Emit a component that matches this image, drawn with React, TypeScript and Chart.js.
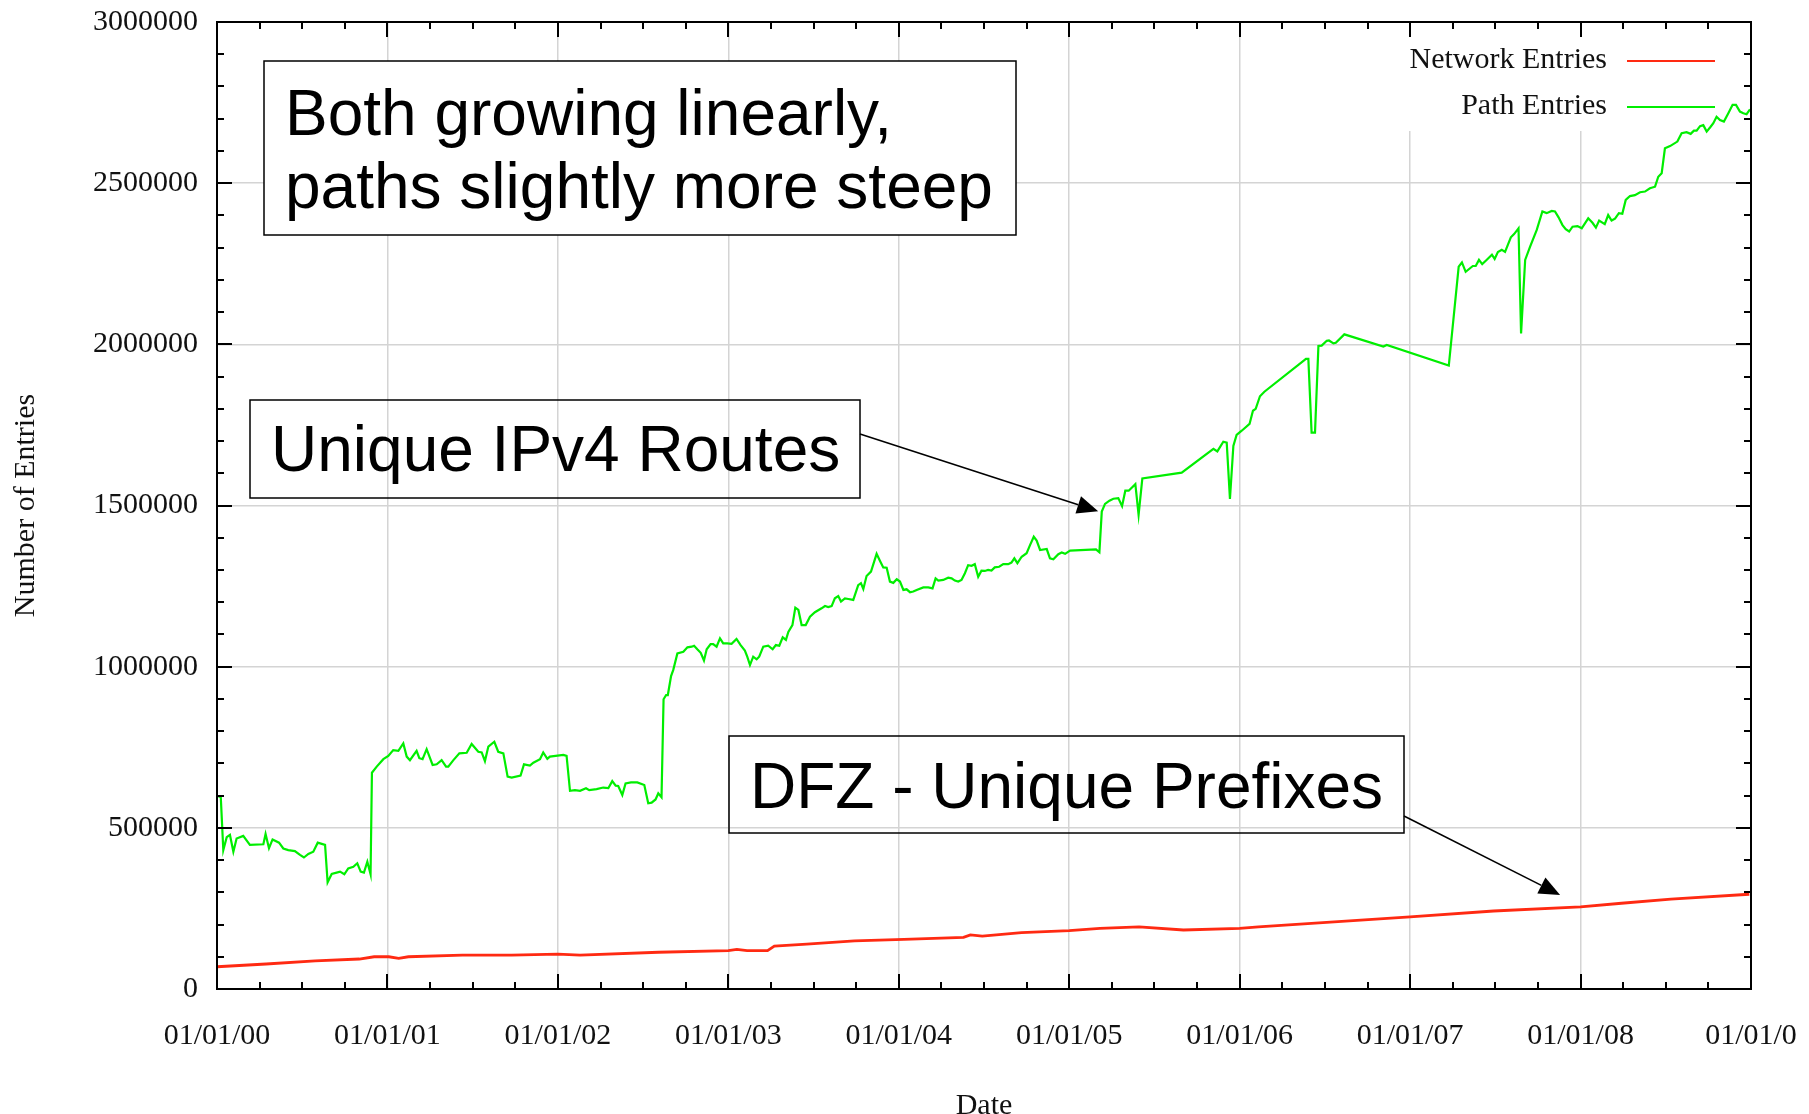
import React, { useEffect, useRef } from 'react';
import { Chart, registerables } from 'chart.js';

Chart.register(...registerables);

// ---------- data ----------
const SERIES_LABELS = ['Network Entries', 'Path Entries'];
const SERIES_COLORS = ['#ff2a12', '#00ee00'];

const X_TICK_LABELS = ['01/01/00', '01/01/01', '01/01/02', '01/01/03', '01/01/04', '01/01/05', '01/01/06', '01/01/07', '01/01/08', '01/01/0'];

const PATH_YEARS = [
  2000.008, 2000.022, 2000.037, 2000.057, 2000.076, 2000.096, 2000.115, 2000.154, 2000.193, 2000.272,
  2000.285, 2000.305, 2000.326, 2000.364, 2000.389, 2000.418, 2000.457, 2000.487, 2000.510, 2000.536,
  2000.565, 2000.591, 2000.634, 2000.649, 2000.673, 2000.702, 2000.722, 2000.747, 2000.770, 2000.800,
  2000.823, 2000.843, 2000.862, 2000.882, 2000.901, 2000.909, 2000.937, 2000.976, 2001.005, 2001.034,
  2001.064, 2001.093, 2001.113, 2001.132, 2001.171, 2001.187, 2001.206, 2001.230, 2001.265, 2001.289,
  2001.318, 2001.344, 2001.357, 2001.387, 2001.422, 2001.465, 2001.494, 2001.533, 2001.553, 2001.572,
  2001.592, 2001.627, 2001.650, 2001.680, 2001.705, 2001.729, 2001.781, 2001.801, 2001.836, 2001.856,
  2001.895, 2001.914, 2001.938, 2001.953, 2002.032, 2002.051, 2002.071, 2002.100, 2002.130, 2002.165,
  2002.184, 2002.227, 2002.266, 2002.296, 2002.319, 2002.339, 2002.354, 2002.378, 2002.397, 2002.429,
  2002.466, 2002.507, 2002.530, 2002.550, 2002.573, 2002.589, 2002.608, 2002.620, 2002.635, 2002.645,
  2002.664, 2002.677, 2002.701, 2002.736, 2002.760, 2002.785, 2002.799, 2002.818, 2002.838, 2002.857,
  2002.873, 2002.896, 2002.911, 2002.931, 2002.951, 2002.970, 2002.994, 2003.019, 2003.048, 2003.072,
  2003.097, 2003.111, 2003.127, 2003.146, 2003.166, 2003.181, 2003.205, 2003.234, 2003.260, 2003.279,
  2003.299, 2003.319, 2003.338, 2003.352, 2003.376, 2003.393, 2003.411, 2003.430, 2003.454, 2003.479,
  2003.508, 2003.547, 2003.567, 2003.586, 2003.606, 2003.625, 2003.645, 2003.661, 2003.684, 2003.704,
  2003.733, 2003.762, 2003.778, 2003.792, 2003.811, 2003.837, 2003.870, 2003.890, 2003.909, 2003.929,
  2003.948, 2003.968, 2003.988, 2004.007, 2004.027, 2004.046, 2004.066, 2004.085, 2004.105, 2004.144,
  2004.173, 2004.198, 2004.216, 2004.232, 2004.261, 2004.290, 2004.310, 2004.329, 2004.349, 2004.368,
  2004.388, 2004.407, 2004.427, 2004.446, 2004.466, 2004.485, 2004.505, 2004.524, 2004.544, 2004.563,
  2004.589, 2004.613, 2004.642, 2004.661, 2004.678, 2004.696, 2004.721, 2004.750, 2004.770, 2004.792,
  2004.809, 2004.829, 2004.868, 2004.887, 2004.907, 2004.936, 2004.956, 2004.976, 2005.005, 2005.157,
  2005.177, 2005.191, 2005.210, 2005.236, 2005.259, 2005.288, 2005.310, 2005.329, 2005.349, 2005.388,
  2005.407, 2005.429, 2005.660, 2005.846, 2005.869, 2005.904, 2005.924, 2005.943, 2005.963, 2005.982,
  2006.012, 2006.058, 2006.078, 2006.094, 2006.119, 2006.145, 2006.389, 2006.403, 2006.422, 2006.442,
  2006.462, 2006.481, 2006.511, 2006.524, 2006.550, 2006.564, 2006.614, 2006.843, 2006.863, 2007.227,
  2007.285, 2007.304, 2007.326, 2007.368, 2007.385, 2007.404, 2007.423, 2007.447, 2007.480, 2007.496,
  2007.515, 2007.538, 2007.557, 2007.591, 2007.610, 2007.636, 2007.651, 2007.675, 2007.704, 2007.743,
  2007.776, 2007.801, 2007.831, 2007.850, 2007.871, 2007.894, 2007.913, 2007.933, 2007.953, 2007.982,
  2008.007, 2008.045, 2008.070, 2008.090, 2008.109, 2008.142, 2008.162, 2008.182, 2008.202, 2008.225,
  2008.245, 2008.265, 2008.290, 2008.319, 2008.349, 2008.378, 2008.407, 2008.437, 2008.456, 2008.476,
  2008.495, 2008.525, 2008.568, 2008.593, 2008.622, 2008.646, 2008.665, 2008.681, 2008.701, 2008.720,
  2008.740, 2008.763, 2008.779, 2008.798, 2008.818, 2008.841, 2008.867, 2008.892, 2008.912, 2008.935,
  2008.955, 2008.974, 2008.994,
];

const PATH_ENTRIES = [
  597000, 597000, 431000, 471000, 478000, 426000, 467000, 475000, 447000, 449000,
  481000, 437000, 464000, 454000, 436000, 431000, 428000, 416000, 408000, 419000,
  426000, 454000, 447000, 331000, 357000, 361000, 364000, 356000, 374000, 379000,
  390000, 364000, 361000, 395000, 356000, 671000, 690000, 713000, 723000, 741000,
  739000, 762000, 721000, 710000, 739000, 716000, 713000, 744000, 695000, 697000,
  710000, 690000, 690000, 710000, 731000, 733000, 760000, 736000, 734000, 707000,
  752000, 767000, 736000, 731000, 659000, 656000, 662000, 697000, 693000, 702000,
  713000, 734000, 714000, 721000, 726000, 723000, 615000, 617000, 615000, 623000,
  617000, 620000, 625000, 623000, 645000, 631000, 630000, 602000, 638000, 641000,
  641000, 633000, 576000, 578000, 588000, 607000, 595000, 899000, 912000, 912000,
  971000, 990000, 1041000, 1046000, 1060000, 1062000, 1065000, 1054000, 1043000, 1019000,
  1054000, 1070000, 1070000, 1062000, 1088000, 1072000, 1072000, 1071000, 1086000, 1067000,
  1050000, 1031000, 1005000, 1031000, 1023000, 1031000, 1062000, 1065000, 1054000, 1067000,
  1065000, 1091000, 1083000, 1108000, 1129000, 1183000, 1176000, 1129000, 1129000, 1155000,
  1169000, 1181000, 1188000, 1185000, 1188000, 1212000, 1219000, 1202000, 1212000, 1210000,
  1207000, 1253000, 1259000, 1241000, 1281000, 1295000, 1350000, 1328000, 1308000, 1307000,
  1264000, 1260000, 1271000, 1264000, 1238000, 1240000, 1231000, 1233000, 1238000, 1246000,
  1246000, 1243000, 1274000, 1267000, 1269000, 1276000, 1274000, 1267000, 1264000, 1269000,
  1290000, 1315000, 1313000, 1318000, 1279000, 1298000, 1297000, 1300000, 1298000, 1308000,
  1310000, 1318000, 1318000, 1323000, 1336000, 1321000, 1341000, 1352000, 1377000, 1403000,
  1391000, 1362000, 1365000, 1336000, 1333000, 1349000, 1354000, 1350000, 1360000, 1364000,
  1355000, 1481000, 1505000, 1515000, 1521000, 1523000, 1498000, 1546000, 1546000, 1566000,
  1471000, 1584000, 1602000, 1676000, 1668000, 1698000, 1695000, 1520000, 1685000, 1719000,
  1732000, 1753000, 1794000, 1800000, 1839000, 1853000, 1955000, 1955000, 1726000, 1726000,
  1995000, 1996000, 2011000, 2012000, 2003000, 2005000, 2031000, 1993000, 1998000, 1934000,
  2241000, 2254000, 2225000, 2243000, 2243000, 2262000, 2249000, 2261000, 2278000, 2265000,
  2286000, 2293000, 2287000, 2332000, 2342000, 2360000, 2034000, 2262000, 2303000, 2355000,
  2412000, 2407000, 2414000, 2412000, 2394000, 2370000, 2357000, 2350000, 2365000, 2367000,
  2360000, 2391000, 2377000, 2362000, 2384000, 2373000, 2401000, 2384000, 2390000, 2407000,
  2405000, 2448000, 2460000, 2463000, 2472000, 2474000, 2484000, 2489000, 2520000, 2531000,
  2608000, 2615000, 2629000, 2655000, 2658000, 2653000, 2663000, 2663000, 2677000, 2680000,
  2660000, 2675000, 2686000, 2706000, 2696000, 2691000, 2717000, 2743000, 2743000, 2722000,
  2717000, 2714000, 2729000,
];

const NET_YEARS = [
  2000.0, 2000.288, 2000.576, 2000.835, 2000.922, 2001.008, 2001.066, 2001.123, 2001.44, 2001.728,
  2002.0, 2002.13, 2002.59, 2003.0, 2003.05, 2003.11, 2003.23, 2003.27, 2003.46, 2003.74,
  2004.03, 2004.38, 2004.42, 2004.49, 2004.72, 2005.0, 2005.18, 2005.41, 2005.67, 2006.0,
  2006.11, 2006.51, 2007.0, 2007.49, 2008.0, 2008.24, 2008.53, 2008.99,
];

const NET_ENTRIES = [
  69000, 77600, 87000, 93000, 100000, 100000, 95000, 100000, 105000, 105000,
  108000, 105000, 114000, 119000, 123000, 119000, 119000, 133000, 139000, 149000,
  154000, 160000, 168000, 164000, 175000, 181000, 188000, 193000, 183000, 188000,
  193000, 207000, 224000, 242000, 255000, 266000, 279000, 294000,
];

const NOTE_BOTH = ['Both growing linearly,', 'paths slightly more steep'];
const NOTE_ROUTES = 'Unique IPv4 Routes';
const NOTE_DFZ = 'DFZ - Unique Prefixes';
// arrow tip targets in data coordinates
const ROUTES_TIP = { x: 2005.17, y: 1482000 };
const DFZ_TIP = { x: 2007.88, y: 292000 };

const SERIF = '"Liberation Serif", "Times New Roman", serif';
const SANS = '"Liberation Sans", Arial, sans-serif';

function drawArrow(ctx: CanvasRenderingContext2D, x0: number, y0: number, x1: number, y1: number) {
  const len = 21;
  const half = 9;
  const ang = Math.atan2(y1 - y0, x1 - x0);
  const bx = x1 - len * Math.cos(ang);
  const by = y1 - len * Math.sin(ang);
  ctx.beginPath();
  ctx.moveTo(x0, y0);
  ctx.lineTo(bx, by);
  ctx.stroke();
  ctx.beginPath();
  ctx.moveTo(x1, y1);
  ctx.lineTo(bx + half * Math.sin(ang), by - half * Math.cos(ang));
  ctx.lineTo(bx - half * Math.sin(ang), by + half * Math.cos(ang));
  ctx.closePath();
  ctx.fill();
}

const overlayPlugin = {
  id: 'gnuplotOverlay',
  beforeDatasetsDraw(chart: any) {
    const ctx = chart.ctx as CanvasRenderingContext2D;
    const a = chart.chartArea;
    ctx.save();
    ctx.fillStyle = '#ffffff';
    // opaque note box and key area hide the grid
    ctx.fillRect(264, 61, 752, 174);
    ctx.fillRect(1392, a.top + 1, a.right - 1392, 130 - a.top);
    ctx.restore();
  },
  afterDatasetsDraw(chart: any) {
    const ctx = chart.ctx as CanvasRenderingContext2D;
    const a = chart.chartArea;
    const xs = chart.scales.x;
    const ys = chart.scales.y;
    ctx.save();

    // ticks on all four sides (inward)
    ctx.strokeStyle = '#000';
    ctx.lineWidth = 2;
    ctx.beginPath();
    for (let q = 1; q < 36; q++) {
      const px = Math.round(xs.getPixelForValue(2000 + q * 0.25));
      const len = q % 4 === 0 ? 15 : 7;
      ctx.moveTo(px, a.bottom);
      ctx.lineTo(px, a.bottom - len);
      ctx.moveTo(px, a.top);
      ctx.lineTo(px, a.top + len);
    }
    for (let q = 1; q < 30; q++) {
      const py = Math.round(ys.getPixelForValue(q * 100000));
      const len = q % 5 === 0 ? 15 : 7;
      ctx.moveTo(a.left, py);
      ctx.lineTo(a.left + len, py);
      ctx.moveTo(a.right, py);
      ctx.lineTo(a.right - len, py);
    }
    ctx.stroke();
    ctx.strokeRect(a.left, a.top, a.right - a.left, a.bottom - a.top);

    // key
    ctx.font = `30px ${SERIF}`;
    ctx.textAlign = 'right';
    ctx.textBaseline = 'middle';
    ctx.fillStyle = '#111';
    const keyY = [60, 106];
    chart.data.datasets.forEach((ds: any, i: number) => {
      ctx.fillText(ds.label, 1607, keyY[i]);
      ctx.strokeStyle = ds.borderColor;
      ctx.lineWidth = 2;
      ctx.beginPath();
      ctx.moveTo(1627, keyY[i] + 1);
      ctx.lineTo(1715, keyY[i] + 1);
      ctx.stroke();
    });

    // note boxes
    ctx.strokeStyle = '#000';
    ctx.fillStyle = '#000';
    ctx.lineWidth = 1.5;
    ctx.textAlign = 'left';
    ctx.textBaseline = 'alphabetic';
    ctx.font = `64px ${SANS}`;

    ctx.strokeRect(264, 61, 752, 174);
    ctx.fillText(NOTE_BOTH[0], 285, 135);
    ctx.fillText(NOTE_BOTH[1], 285, 208);

    ctx.strokeRect(250, 400, 610, 98);
    ctx.fillText(NOTE_ROUTES, 271, 471);

    ctx.strokeRect(729, 736, 675, 97);
    ctx.fillText(NOTE_DFZ, 750, 808);

    ctx.lineWidth = 1.6;
    drawArrow(ctx, 860, 434, xs.getPixelForValue(ROUTES_TIP.x), ys.getPixelForValue(ROUTES_TIP.y));
    drawArrow(ctx, 1404, 816, xs.getPixelForValue(DFZ_TIP.x), ys.getPixelForValue(DFZ_TIP.y));

    ctx.restore();
  },
};

export default function App() {
  const ref = useRef<HTMLCanvasElement | null>(null);

  useEffect(() => {
    if (!ref.current) return;
    const netData = NET_YEARS.map((x, i) => ({ x, y: NET_ENTRIES[i] }));
    const pathData = PATH_YEARS.map((x, i) => ({ x, y: PATH_ENTRIES[i] }));
    const chart = new Chart(ref.current, {
      type: 'line',
      data: {
        datasets: [
          {
            label: SERIES_LABELS[0],
            data: netData,
            borderColor: SERIES_COLORS[0],
            backgroundColor: SERIES_COLORS[0],
            borderWidth: 2.8,
            pointRadius: 0,
            tension: 0,
          },
          {
            label: SERIES_LABELS[1],
            data: pathData,
            borderColor: SERIES_COLORS[1],
            backgroundColor: SERIES_COLORS[1],
            borderWidth: 2.2,
            pointRadius: 0,
            tension: 0,
          },
        ],
      },
      options: {
        animation: false,
        responsive: false,
        events: [],
        layout: { padding: { left: 0, top: 22, right: 58, bottom: 0 } },
        plugins: {
          legend: { display: false },
          tooltip: { enabled: false },
        },
        scales: {
          x: {
            type: 'linear',
            min: 2000,
            max: 2009,
            afterFit: (s: any) => {
              s.height = 125;
              s.paddingLeft = 0;
              s.paddingRight = 0;
            },
            border: { display: false },
            grid: { color: '#d4d4d4', lineWidth: 1.5, drawTicks: false },
            ticks: {
              stepSize: 1,
              autoSkip: false,
              maxRotation: 0,
              padding: 29,
              color: '#111',
              font: { family: SERIF, size: 30 },
              callback: (v: any) => X_TICK_LABELS[Math.round(Number(v) - 2000)],
            },
            title: {
              display: true,
              text: 'Date',
              color: '#111',
              font: { family: SERIF, size: 30, lineHeight: 0.55 },
              padding: { top: 0, bottom: 0 },
            },
          },
          y: {
            type: 'linear',
            min: 0,
            max: 3000000,
            afterFit: (s: any) => {
              s.width = 217;
              s.paddingTop = 0;
              s.paddingBottom = 0;
            },
            border: { display: false },
            grid: { color: '#d4d4d4', lineWidth: 1.5, drawTicks: false },
            ticks: {
              stepSize: 500000,
              padding: 19,
              color: '#111',
              font: { family: SERIF, size: 30 },
              callback: (v: any) => String(v),
            },
            title: {
              display: true,
              text: 'Number of Entries',
              color: '#111',
              font: { family: SERIF, size: 30, lineHeight: 1.2 },
              padding: { top: 8, bottom: 0 },
            },
          },
        },
      },
      plugins: [overlayPlugin],
    });
    return () => chart.destroy();
  }, []);

  return (
    <canvas
      ref={ref}
      width={1809}
      height={1114}
      style={{ position: 'absolute', left: 0, top: 0, display: 'block', background: '#fff' }}
    />
  );
}
